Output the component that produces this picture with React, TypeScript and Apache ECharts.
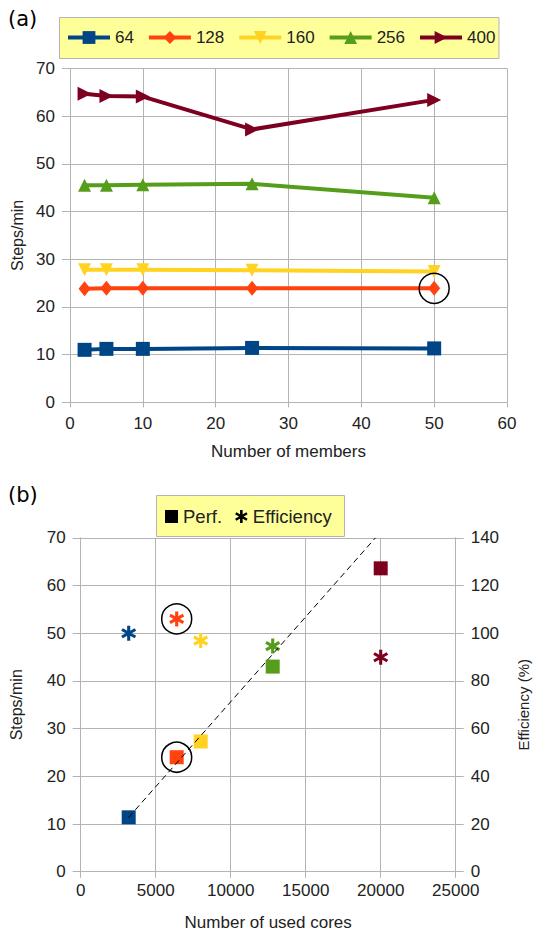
import React, { useEffect, useRef } from "react";
import * as echarts from "echarts";

// ---------- Data: chart (a) ----------
const memberCounts = [2, 5, 10, 25, 50];
const seriesNames = ["64", "128", "160", "256", "400"];
const steps64 = [11.0, 11.2, 11.2, 11.4, 11.3];
const steps128 = [23.8, 23.9, 23.9, 23.9, 23.9];
const steps160 = [27.8, 27.8, 27.8, 27.7, 27.4];
const steps256 = [45.5, 45.5, 45.6, 45.8, 42.9];
const steps400 = [64.7, 64.2, 64.1, 57.2, 63.4];
const highlightA = [[50, 23.9]];

// ---------- Data: chart (b) ----------
const usedCores = [3200, 6400, 8000, 12800, 20000];
const perfSteps = [11.4, 24.0, 27.3, 43.0, 63.6];
const efficiencyPct = [100, 106, 96.9, 94.6, 89.9];
const idealLine = [[3200, 11.4], [19650, 70]];
const highlightBPerf = [[6400, 24.0]];
const highlightBEff = [[6400, 106]];

const colors = ["#004586", "#ff420e", "#ffd320", "#579d1c", "#7e0021"];

const FONT = "Liberation Sans";
const GRID = "#b3b3b3";
const TXT = "#222";

const ASTERISK =
  "path://M-2,-10L2,-10L2,10L-2,10Z" +
  "M7.66,-6.73L9.66,-3.27L-7.66,6.73L-9.66,3.27Z" +
  "M-9.66,-3.27L-7.66,-6.73L9.66,3.27L7.66,6.73Z";

export default function App() {
  const ref = useRef<HTMLDivElement>(null);
  useEffect(() => {
    if (!ref.current) return;
    const chart = echarts.init(ref.current, null, { renderer: "svg" });

    const stepsData = [steps64, steps128, steps160, steps256, steps400];
    const symbols = ["rect", "diamond", "triangle", "triangle", "triangle"];
    const rotates = [0, 0, 180, 0, -90];
    const sizes = [14, [12, 15], 13, 13, 14];

    const lineSeries = seriesNames.map((name, i) => ({
      name,
      type: "line",
      xAxisIndex: 0,
      yAxisIndex: 0,
      data: memberCounts.map((x, j) => [x, stepsData[i][j]]),
      symbol: symbols[i],
      symbolRotate: rotates[i],
      symbolSize: sizes[i],
      showSymbol: true,
      color: colors[i],
      lineStyle: { width: 4, color: colors[i] },
      itemStyle: { color: colors[i], opacity: 1 },
    }));

    const axisLabelStyle = { color: TXT, fontFamily: FONT, fontSize: 17 };
    const nameStyle = { color: TXT, fontFamily: FONT, fontSize: 17 };
    const plain = (v: number) => String(v);

    const option: any = {
      animation: false,
      backgroundColor: "#fff",
      graphic: [
        {
          type: "rect",
          z: 0,
          shape: { x: 59.5, y: 17.5, width: 439.5, height: 41 },
          style: { fill: "#ffff99", stroke: GRID, lineWidth: 1 },
        },
        {
          type: "rect",
          z: 0,
          shape: { x: 156.5, y: 495.5, width: 188, height: 41 },
          style: { fill: "#ffff99", stroke: GRID, lineWidth: 1 },
        },
        {
          type: "text",
          x: 8,
          y: 8,
          style: { text: "(a)", fontSize: 21, fontFamily: "DejaVu Sans", fill: "#000" },
        },
        {
          type: "text",
          x: 8,
          y: 484,
          style: { text: "(b)", fontSize: 21, fontFamily: "DejaVu Sans", fill: "#000" },
        },
      ],
      legend: [
        {
          data: seriesNames,
          left: 66,
          top: 29,
          padding: 0,
          itemWidth: 42,
          itemHeight: 16,
          itemGap: 13,
          z: 5,
          lineStyle: { width: 4 },
          textStyle: { color: TXT, fontFamily: FONT, fontSize: 17 },
        },
        {
          data: [
            { name: "Perf.", icon: "rect" },
            { name: "Efficiency", icon: ASTERISK },
          ],
          left: 165,
          top: 507,
          padding: 0,
          itemWidth: 13,
          itemHeight: 13,
          itemGap: 13,
          z: 5,
          textStyle: { color: TXT, fontFamily: FONT, fontSize: 18.5 },
        },
      ],
      grid: [
        { left: 70, right: 27, top: 68.4, bottom: 529.7, containLabel: false, outerBoundsMode: "none" },
        { left: 80.7, right: 78.3, top: 537.8, bottom: 60.3, containLabel: false, outerBoundsMode: "none" },
      ],
      xAxis: [
        {
          gridIndex: 0,
          type: "value",
          min: 0,
          max: 60,
          interval: 10,
          name: "Number of members",
          nameLocation: "middle",
          nameGap: 41,
          nameTextStyle: nameStyle,
          axisLine: { show: true, lineStyle: { color: GRID } },
          axisTick: { show: true, length: 5, lineStyle: { color: GRID } },
          axisLabel: { ...axisLabelStyle, margin: 13, formatter: plain },
          splitLine: { show: true, lineStyle: { color: GRID } },
        },
        {
          gridIndex: 1,
          type: "value",
          min: 0,
          max: 25000,
          interval: 5000,
          name: "Number of used cores",
          nameLocation: "middle",
          nameGap: 42,
          nameTextStyle: nameStyle,
          axisLine: { show: true, lineStyle: { color: GRID } },
          axisTick: { show: true, length: 6, lineStyle: { color: GRID } },
          axisLabel: { ...axisLabelStyle, margin: 10, formatter: plain, hideOverlap: false },
          splitLine: { show: true, lineStyle: { color: GRID } },
        },
      ],
      yAxis: [
        {
          gridIndex: 0,
          type: "value",
          min: 0,
          max: 70,
          interval: 10,
          name: "Steps/min",
          nameLocation: "middle",
          nameGap: 42,
          nameTextStyle: { ...nameStyle, fontSize: 16 },
          axisLine: { show: true, lineStyle: { color: GRID } },
          axisTick: { show: true, length: 8, lineStyle: { color: GRID } },
          axisLabel: { ...axisLabelStyle, margin: 15, formatter: plain },
          splitLine: { show: true, lineStyle: { color: GRID } },
        },
        {
          gridIndex: 1,
          type: "value",
          position: "left",
          min: 0,
          max: 70,
          interval: 10,
          name: "Steps/min",
          nameLocation: "middle",
          nameGap: 56,
          nameTextStyle: { ...nameStyle, fontSize: 16 },
          axisLine: { show: true, lineStyle: { color: GRID } },
          axisTick: { show: true, length: 8, lineStyle: { color: GRID } },
          axisLabel: { ...axisLabelStyle, margin: 15, formatter: plain },
          splitLine: { show: true, lineStyle: { color: GRID } },
        },
        {
          gridIndex: 1,
          type: "value",
          position: "right",
          min: 0,
          max: 140,
          interval: 20,
          name: "Efficiency (%)",
          nameLocation: "middle",
          nameGap: 60,
          nameTextStyle: { ...nameStyle, fontSize: 15 },
          axisLine: { show: true, lineStyle: { color: GRID } },
          axisTick: { show: true, length: 8, lineStyle: { color: GRID } },
          axisLabel: { ...axisLabelStyle, margin: 15, formatter: plain },
          splitLine: { show: false },
        },
      ],
      series: [
        ...lineSeries,
        {
          name: "circleA",
          type: "scatter",
          xAxisIndex: 0,
          yAxisIndex: 0,
          data: highlightA,
          symbol: "circle",
          symbolSize: 30,
          silent: true,
          z: 10,
          itemStyle: { color: "rgba(0,0,0,0)", borderColor: "#000", borderWidth: 1.5, opacity: 1 },
        },
        {
          name: "Perf.",
          type: "scatter",
          xAxisIndex: 1,
          yAxisIndex: 1,
          symbol: "rect",
          symbolSize: 14,
          itemStyle: { color: "#000", opacity: 1 },
          data: usedCores.map((x, i) => ({
            value: [x, perfSteps[i]],
            itemStyle: { color: colors[i], opacity: 1 },
          })),
        },
        {
          name: "Efficiency",
          type: "scatter",
          xAxisIndex: 1,
          yAxisIndex: 2,
          symbol: ASTERISK,
          symbolSize: 15,
          itemStyle: { color: "#000", opacity: 1 },
          data: usedCores.map((x, i) => ({
            value: [x, efficiencyPct[i]],
            itemStyle: { color: colors[i], opacity: 1 },
          })),
        },
        {
          name: "ideal",
          type: "line",
          xAxisIndex: 1,
          yAxisIndex: 1,
          data: idealLine,
          showSymbol: false,
          symbol: "none",
          z: 6,
          lineStyle: { color: "#000", width: 1, type: [6, 4] },
        },
        {
          name: "circleB1",
          type: "scatter",
          xAxisIndex: 1,
          yAxisIndex: 1,
          data: highlightBPerf,
          symbol: "circle",
          symbolSize: 30,
          silent: true,
          z: 10,
          itemStyle: { color: "rgba(0,0,0,0)", borderColor: "#000", borderWidth: 1.5, opacity: 1 },
        },
        {
          name: "circleB2",
          type: "scatter",
          xAxisIndex: 1,
          yAxisIndex: 2,
          data: highlightBEff,
          symbol: "circle",
          symbolSize: 30,
          silent: true,
          z: 10,
          itemStyle: { color: "rgba(0,0,0,0)", borderColor: "#000", borderWidth: 1.5, opacity: 1 },
        },
      ],
    };

    chart.setOption(option);
    return () => chart.dispose();
  }, []);

  return (
    <div
      ref={ref}
      style={{ position: "absolute", left: 0, top: 0, width: 534, height: 932 }}
    />
  );
}
